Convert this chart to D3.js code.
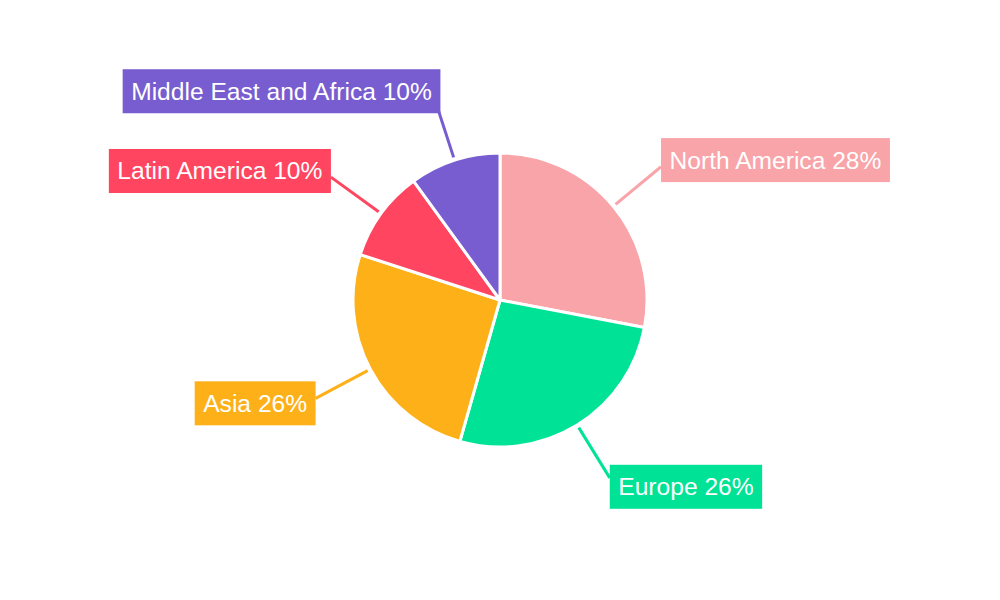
<!DOCTYPE html>
<html><head><meta charset="utf-8">
<script src="https://cdn.jsdelivr.net/npm/d3@7"></script>
<style>html,body{margin:0;padding:0;background:#fff;}svg{display:block;}</style>
</head><body>
<svg id="chart" width="1000" height="600"></svg>
<script>
const categories = ["North America", "Europe", "Asia", "Latin America", "Middle East and Africa"];
const values = [28, 26.4, 25.6, 10, 10];
const colors = ["#F8A4A8", "#00E396", "#FEB019", "#FF4560", "#775DD0"];

const W = 1000, H = 600, cx = 500, cy = 300, R = 147;
const svg = d3.select("#chart");
const g = svg.append("g").attr("transform", `translate(${cx},${cy})`);
const total = d3.sum(values);
const data = categories.map((c, i) => ({cat: c, value: values[i], color: colors[i]}));
const pie = d3.pie().value(d => d.value).sort(null);
const arcs = pie(data);
const arc = d3.arc().innerRadius(0).outerRadius(R);

g.selectAll("path.slice").data(arcs).join("path")
  .attr("class", "slice")
  .attr("d", arc)
  .attr("fill", d => d.data.color)
  .attr("stroke", "#fff").attr("stroke-width", 3).attr("stroke-linejoin", "round");

const r1 = 150, r2 = 209;
const labels = g.append("g");
arcs.forEach(d => {
  const a = (d.startAngle + d.endAngle) / 2;
  const s = Math.sin(a), c = Math.cos(a);
  const x1 = r1 * s, y1 = -r1 * c, x2 = r2 * s, y2 = -r2 * c;
  labels.append("line").attr("x1", x1).attr("y1", y1).attr("x2", x2).attr("y2", y2)
    .attr("stroke", d.data.color).attr("stroke-width", 3);
  const lg = labels.append("g");
  const txt = lg.append("text")
    .attr("font-family", "'Liberation Sans', Arial, sans-serif")
    .attr("font-size", 24.6).attr("fill", "#fff")
    .attr("text-anchor", "middle")
    .text(`${d.data.cat} ${Math.round(d.data.value / total * 100)}%`);
  const tw = txt.node().getComputedTextLength();
  const bw = tw + 17, bh = 44;
  const right = s > 0.05;
  const bx = right ? x2 : x2 - bw + (Math.abs(s) < 0.5 ? 5 : 0);
  const byc = y2 - 10.5 * c;
  lg.insert("rect", "text").attr("x", bx).attr("y", byc - bh / 2)
    .attr("width", bw).attr("height", bh).attr("fill", d.data.color);
  txt.attr("x", bx + bw / 2).attr("y", byc + 8.5);
});
</script>
</body></html>
